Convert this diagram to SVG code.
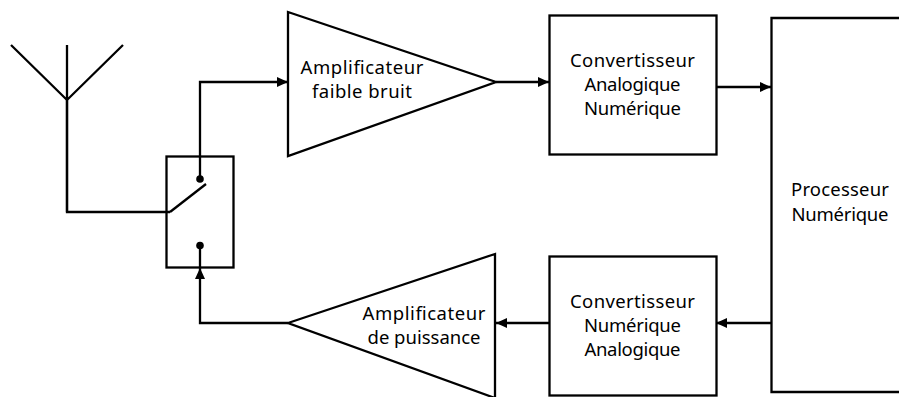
<svg xmlns="http://www.w3.org/2000/svg" width="899" height="397" viewBox="0 0 899 397">
<style>
.s{fill:#fff;stroke:#000;stroke-width:2.3;stroke-linejoin:miter}
.w{fill:none;stroke:#000;stroke-width:2.3}
.d{fill:#000}
text{font-family:"Noto Sans","DejaVu Sans",sans-serif;font-size:18.500px;fill:#000;text-anchor:middle}
</style>
<defs>
<marker id="a" markerUnits="userSpaceOnUse" markerWidth="13" markerHeight="12" refX="11" refY="6" orient="auto"><path d="M0 1L11 6L0 11Z" fill="#000"/></marker>
</defs>
<rect width="899" height="397" fill="#fff"/>
<g id="antenna"><path class="w" d="M11 45L67 100L123 45M67 45V212"/></g>
<g id="switch">
<rect class="s" x="166.500" y="156.500" width="67" height="111"/>
<circle class="d" cx="200" cy="179" r="3.800"/>
<circle class="d" cx="200" cy="245.500" r="3.800"/>
<path class="w" d="M170 212L206 184"/>
</g>
<g id="lna">
<path class="s" d="M288 12L496 82L288 156Z"/>
<text x="362" y="74" textLength="123">Amplificateur</text>
<text x="362" y="98" textLength="100">faible bruit</text>
</g>
<g id="adc">
<rect class="s" x="549.500" y="15.500" width="167" height="139"/>
<text x="632.500" y="67" textLength="125">Convertisseur</text>
<text x="632.500" y="91" textLength="96">Analogique</text>
<text x="632.500" y="115" textLength="97">Numérique</text>
</g>
<g id="processor">
<path class="s" d="M899 18H771.500V392H899"/>
<text x="840" y="196" textLength="98">Processeur</text>
<text x="840" y="221" textLength="97">Numérique</text>
</g>
<g id="dac">
<rect class="s" x="549.500" y="256.500" width="167" height="139"/>
<text x="632.500" y="308" textLength="125">Convertisseur</text>
<text x="632.500" y="332" textLength="97">Numérique</text>
<text x="632.500" y="356" textLength="96">Analogique</text>
</g>
<g id="pa">
<path class="s" d="M288 323L495 254V398Z"/>
<text x="424" y="320" textLength="123">Amplificateur</text>
<text x="424" y="344" textLength="113">de puissance</text>
</g>
<g id="connectors">
<path class="w" d="M67 100V212H170"/>
<path class="w" marker-end="url(#a)" d="M200 179V82H288"/>
<path class="w" marker-end="url(#a)" d="M496 82H549"/>
<path class="w" marker-end="url(#a)" d="M716 87H771"/>
<path class="w" marker-end="url(#a)" d="M771 323H716"/>
<path class="w" marker-end="url(#a)" d="M549 323H496"/>
<path class="w" marker-end="url(#a)" d="M288 323H200V268"/>
<path class="w" d="M200 268V246"/>
</g>
</svg>
